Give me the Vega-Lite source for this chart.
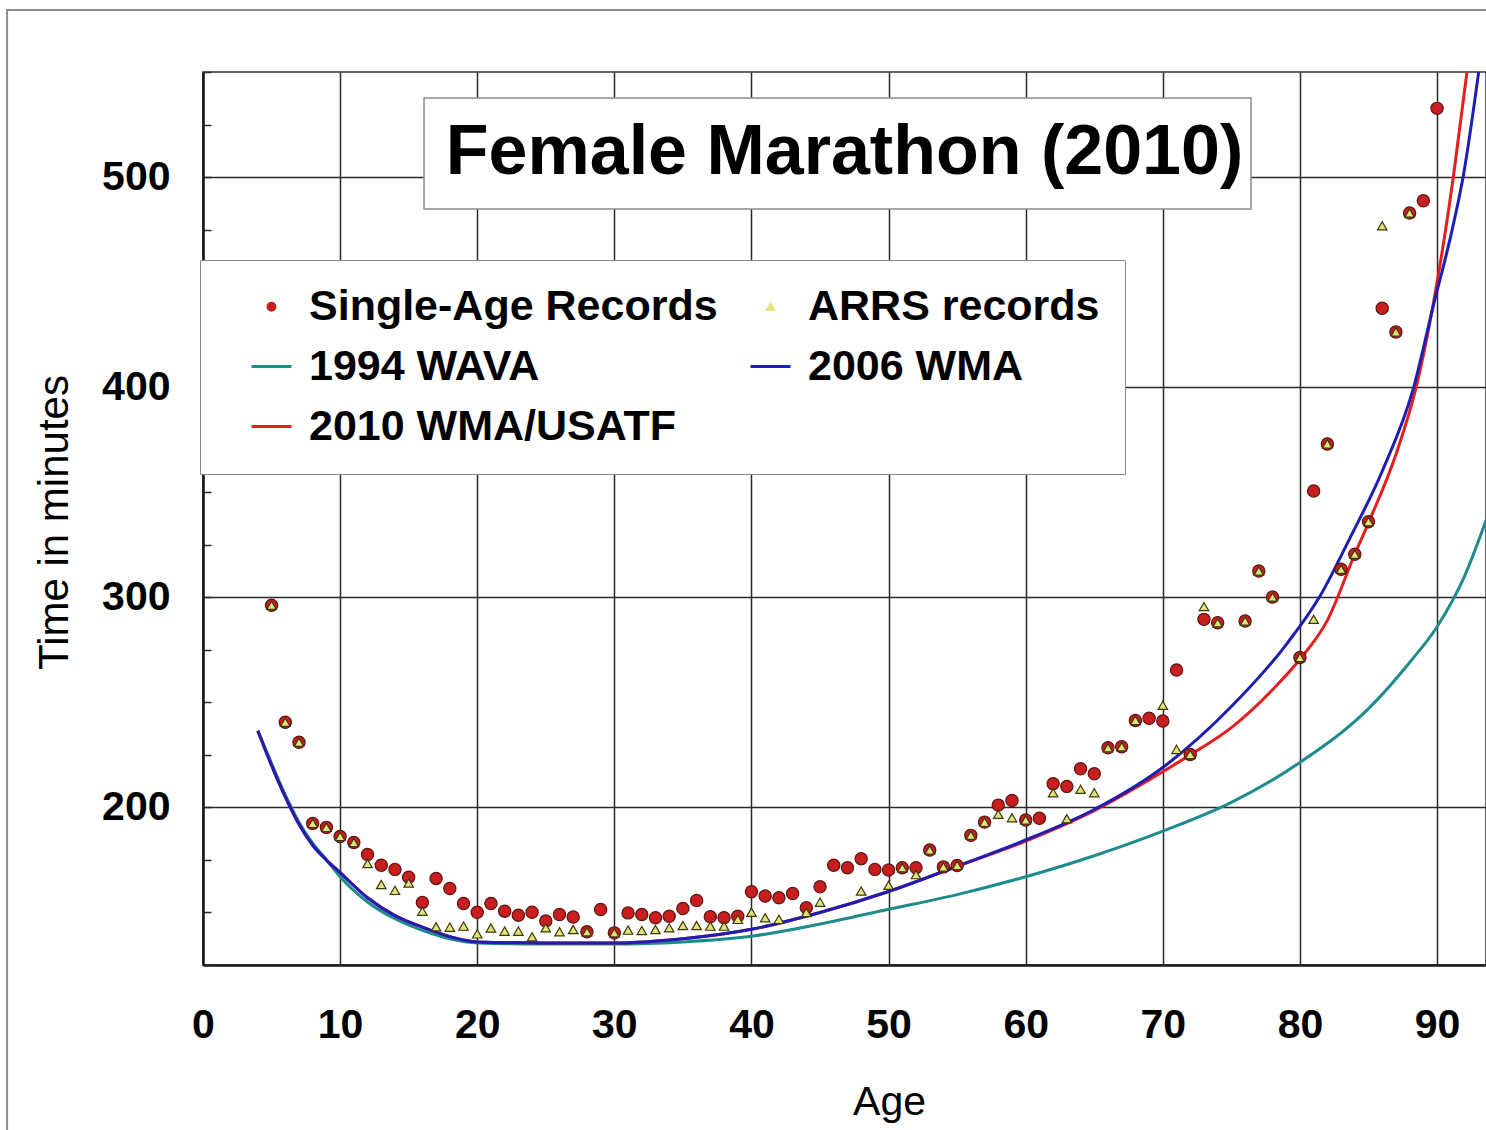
{
  "$schema": "https://vega.github.io/schema/vega-lite/v6.json",
  "autosize": {"type": "none"},
  "width": 1283,
  "height": 893,
  "padding": {"left": 203, "top": 72, "right": 0, "bottom": 165},
  "background": "white",
  "title": {"text": "Female Marathon (2010)", "font": "Liberation Sans", "fontSize": 70, "fontWeight": "bold", "color": "#000000", "anchor": "middle", "frame": "group", "orient": "top", "offset": -234.5, "baseline": "alphabetic"},
  "config": {
    "view": {"stroke": "#333333", "strokeWidth": 1.5},
    "font": "Liberation Sans"
  },
  "datasets": {
    "points": [
      {"age": 5, "time": 296.2, "series": "Single-Age Records"},
      {"age": 6, "time": 240.5, "series": "Single-Age Records"},
      {"age": 7, "time": 231, "series": "Single-Age Records"},
      {"age": 8, "time": 192.4, "series": "Single-Age Records"},
      {"age": 9, "time": 190.5, "series": "Single-Age Records"},
      {"age": 10, "time": 186.2, "series": "Single-Age Records"},
      {"age": 11, "time": 183.3, "series": "Single-Age Records"},
      {"age": 12, "time": 177.6, "series": "Single-Age Records"},
      {"age": 13, "time": 172.5, "series": "Single-Age Records"},
      {"age": 14, "time": 170.5, "series": "Single-Age Records"},
      {"age": 15, "time": 166.8, "series": "Single-Age Records"},
      {"age": 16, "time": 154.8, "series": "Single-Age Records"},
      {"age": 17, "time": 166.2, "series": "Single-Age Records"},
      {"age": 18, "time": 161.4, "series": "Single-Age Records"},
      {"age": 19, "time": 154.3, "series": "Single-Age Records"},
      {"age": 20, "time": 150.1, "series": "Single-Age Records"},
      {"age": 21, "time": 154.3, "series": "Single-Age Records"},
      {"age": 22, "time": 150.6, "series": "Single-Age Records"},
      {"age": 23, "time": 148.7, "series": "Single-Age Records"},
      {"age": 24, "time": 150.1, "series": "Single-Age Records"},
      {"age": 25, "time": 145.9, "series": "Single-Age Records"},
      {"age": 26, "time": 149.0, "series": "Single-Age Records"},
      {"age": 27, "time": 147.8, "series": "Single-Age Records"},
      {"age": 28, "time": 140.8, "series": "Single-Age Records"},
      {"age": 29, "time": 151.4, "series": "Single-Age Records"},
      {"age": 30, "time": 140.3, "series": "Single-Age Records"},
      {"age": 31, "time": 149.8, "series": "Single-Age Records"},
      {"age": 32, "time": 149.0, "series": "Single-Age Records"},
      {"age": 33, "time": 147.5, "series": "Single-Age Records"},
      {"age": 34, "time": 148.2, "series": "Single-Age Records"},
      {"age": 35, "time": 151.9, "series": "Single-Age Records"},
      {"age": 36, "time": 155.7, "series": "Single-Age Records"},
      {"age": 37, "time": 148.0, "series": "Single-Age Records"},
      {"age": 38, "time": 147.5, "series": "Single-Age Records"},
      {"age": 39, "time": 148.2, "series": "Single-Age Records"},
      {"age": 40, "time": 159.9, "series": "Single-Age Records"},
      {"age": 41, "time": 157.8, "series": "Single-Age Records"},
      {"age": 42, "time": 157.0, "series": "Single-Age Records"},
      {"age": 43, "time": 159.0, "series": "Single-Age Records"},
      {"age": 44, "time": 152.2, "series": "Single-Age Records"},
      {"age": 45, "time": 162.2, "series": "Single-Age Records"},
      {"age": 46, "time": 172.5, "series": "Single-Age Records"},
      {"age": 47, "time": 171.3, "series": "Single-Age Records"},
      {"age": 48, "time": 175.6, "series": "Single-Age Records"},
      {"age": 49, "time": 170.5, "series": "Single-Age Records"},
      {"age": 50, "time": 170.2, "series": "Single-Age Records"},
      {"age": 51, "time": 171.3, "series": "Single-Age Records"},
      {"age": 52, "time": 171.3, "series": "Single-Age Records"},
      {"age": 53, "time": 179.7, "series": "Single-Age Records"},
      {"age": 54, "time": 171.7, "series": "Single-Age Records"},
      {"age": 55, "time": 172.4, "series": "Single-Age Records"},
      {"age": 56, "time": 186.7, "series": "Single-Age Records"},
      {"age": 57, "time": 193.0, "series": "Single-Age Records"},
      {"age": 58, "time": 201.1, "series": "Single-Age Records"},
      {"age": 59, "time": 203.3, "series": "Single-Age Records"},
      {"age": 60, "time": 194.0, "series": "Single-Age Records"},
      {"age": 61, "time": 194.8, "series": "Single-Age Records"},
      {"age": 62, "time": 211.3, "series": "Single-Age Records"},
      {"age": 63, "time": 210.0, "series": "Single-Age Records"},
      {"age": 64, "time": 218.4, "series": "Single-Age Records"},
      {"age": 65, "time": 216.0, "series": "Single-Age Records"},
      {"age": 66, "time": 228.4, "series": "Single-Age Records"},
      {"age": 67, "time": 228.9, "series": "Single-Age Records"},
      {"age": 68, "time": 241.4, "series": "Single-Age Records"},
      {"age": 69, "time": 242.4, "series": "Single-Age Records"},
      {"age": 70, "time": 241.1, "series": "Single-Age Records"},
      {"age": 71, "time": 265.4, "series": "Single-Age Records"},
      {"age": 72, "time": 225.2, "series": "Single-Age Records"},
      {"age": 73, "time": 289.5, "series": "Single-Age Records"},
      {"age": 74, "time": 287.9, "series": "Single-Age Records"},
      {"age": 76, "time": 288.7, "series": "Single-Age Records"},
      {"age": 77, "time": 312.5, "series": "Single-Age Records"},
      {"age": 78, "time": 300.1, "series": "Single-Age Records"},
      {"age": 80, "time": 271.3, "series": "Single-Age Records"},
      {"age": 81, "time": 350.6, "series": "Single-Age Records"},
      {"age": 82, "time": 373.0, "series": "Single-Age Records"},
      {"age": 83, "time": 313.3, "series": "Single-Age Records"},
      {"age": 84, "time": 320.5, "series": "Single-Age Records"},
      {"age": 85, "time": 336.0, "series": "Single-Age Records"},
      {"age": 86, "time": 437.6, "series": "Single-Age Records"},
      {"age": 87, "time": 426.3, "series": "Single-Age Records"},
      {"age": 88, "time": 482.9, "series": "Single-Age Records"},
      {"age": 89, "time": 488.7, "series": "Single-Age Records"},
      {"age": 90, "time": 532.7, "series": "Single-Age Records"},
      {"age": 5, "time": 296.2, "series": "ARRS records"},
      {"age": 6, "time": 240.5, "series": "ARRS records"},
      {"age": 7, "time": 231, "series": "ARRS records"},
      {"age": 8, "time": 192.4, "series": "ARRS records"},
      {"age": 9, "time": 190.5, "series": "ARRS records"},
      {"age": 10, "time": 186.2, "series": "ARRS records"},
      {"age": 11, "time": 183.3, "series": "ARRS records"},
      {"age": 12, "time": 173.3, "series": "ARRS records"},
      {"age": 13, "time": 163.3, "series": "ARRS records"},
      {"age": 14, "time": 160.5, "series": "ARRS records"},
      {"age": 15, "time": 164.0, "series": "ARRS records"},
      {"age": 16, "time": 150.6, "series": "ARRS records"},
      {"age": 17, "time": 143.2, "series": "ARRS records"},
      {"age": 18, "time": 143.0, "series": "ARRS records"},
      {"age": 19, "time": 143.5, "series": "ARRS records"},
      {"age": 20, "time": 139.8, "series": "ARRS records"},
      {"age": 21, "time": 142.6, "series": "ARRS records"},
      {"age": 22, "time": 141.1, "series": "ARRS records"},
      {"age": 23, "time": 141.1, "series": "ARRS records"},
      {"age": 24, "time": 138.4, "series": "ARRS records"},
      {"age": 25, "time": 142.7, "series": "ARRS records"},
      {"age": 26, "time": 140.8, "series": "ARRS records"},
      {"age": 27, "time": 141.9, "series": "ARRS records"},
      {"age": 28, "time": 140.8, "series": "ARRS records"},
      {"age": 30, "time": 140.3, "series": "ARRS records"},
      {"age": 31, "time": 141.6, "series": "ARRS records"},
      {"age": 32, "time": 141.4, "series": "ARRS records"},
      {"age": 33, "time": 141.9, "series": "ARRS records"},
      {"age": 34, "time": 142.7, "series": "ARRS records"},
      {"age": 35, "time": 143.8, "series": "ARRS records"},
      {"age": 36, "time": 143.8, "series": "ARRS records"},
      {"age": 37, "time": 143.5, "series": "ARRS records"},
      {"age": 38, "time": 143.5, "series": "ARRS records"},
      {"age": 39, "time": 146.7, "series": "ARRS records"},
      {"age": 40, "time": 150.1, "series": "ARRS records"},
      {"age": 41, "time": 147.5, "series": "ARRS records"},
      {"age": 42, "time": 146.7, "series": "ARRS records"},
      {"age": 44, "time": 150.0, "series": "ARRS records"},
      {"age": 45, "time": 154.9, "series": "ARRS records"},
      {"age": 48, "time": 160.2, "series": "ARRS records"},
      {"age": 50, "time": 162.9, "series": "ARRS records"},
      {"age": 51, "time": 171.3, "series": "ARRS records"},
      {"age": 52, "time": 168.0, "series": "ARRS records"},
      {"age": 53, "time": 179.7, "series": "ARRS records"},
      {"age": 54, "time": 171.7, "series": "ARRS records"},
      {"age": 55, "time": 172.4, "series": "ARRS records"},
      {"age": 56, "time": 186.7, "series": "ARRS records"},
      {"age": 57, "time": 193.0, "series": "ARRS records"},
      {"age": 58, "time": 196.7, "series": "ARRS records"},
      {"age": 59, "time": 195.1, "series": "ARRS records"},
      {"age": 60, "time": 194.0, "series": "ARRS records"},
      {"age": 62, "time": 207.0, "series": "ARRS records"},
      {"age": 63, "time": 194.6, "series": "ARRS records"},
      {"age": 64, "time": 208.6, "series": "ARRS records"},
      {"age": 65, "time": 207.0, "series": "ARRS records"},
      {"age": 66, "time": 228.4, "series": "ARRS records"},
      {"age": 67, "time": 228.9, "series": "ARRS records"},
      {"age": 68, "time": 241.4, "series": "ARRS records"},
      {"age": 70, "time": 248.6, "series": "ARRS records"},
      {"age": 71, "time": 227.6, "series": "ARRS records"},
      {"age": 72, "time": 225.2, "series": "ARRS records"},
      {"age": 73, "time": 295.6, "series": "ARRS records"},
      {"age": 74, "time": 287.9, "series": "ARRS records"},
      {"age": 76, "time": 288.7, "series": "ARRS records"},
      {"age": 77, "time": 312.5, "series": "ARRS records"},
      {"age": 78, "time": 300.1, "series": "ARRS records"},
      {"age": 80, "time": 271.3, "series": "ARRS records"},
      {"age": 81, "time": 289.5, "series": "ARRS records"},
      {"age": 82, "time": 373.0, "series": "ARRS records"},
      {"age": 83, "time": 313.3, "series": "ARRS records"},
      {"age": 84, "time": 320.5, "series": "ARRS records"},
      {"age": 85, "time": 336.0, "series": "ARRS records"},
      {"age": 86, "time": 476.8, "series": "ARRS records"},
      {"age": 87, "time": 426.3, "series": "ARRS records"},
      {"age": 88, "time": 482.9, "series": "ARRS records"}
    ],
    "curves": [
      {"age": 4, "time": 236.5, "series": "1994 WAVA"},
      {"age": 5, "time": 221, "series": "1994 WAVA"},
      {"age": 6, "time": 206, "series": "1994 WAVA"},
      {"age": 7, "time": 193, "series": "1994 WAVA"},
      {"age": 8, "time": 183, "series": "1994 WAVA"},
      {"age": 9, "time": 175, "series": "1994 WAVA"},
      {"age": 10, "time": 167, "series": "1994 WAVA"},
      {"age": 12, "time": 155, "series": "1994 WAVA"},
      {"age": 14, "time": 147, "series": "1994 WAVA"},
      {"age": 16, "time": 141.5, "series": "1994 WAVA"},
      {"age": 18, "time": 137.5, "series": "1994 WAVA"},
      {"age": 20, "time": 135.5, "series": "1994 WAVA"},
      {"age": 25, "time": 135, "series": "1994 WAVA"},
      {"age": 30, "time": 135, "series": "1994 WAVA"},
      {"age": 35, "time": 136, "series": "1994 WAVA"},
      {"age": 40, "time": 138.7, "series": "1994 WAVA"},
      {"age": 45, "time": 144.5, "series": "1994 WAVA"},
      {"age": 50, "time": 151.5, "series": "1994 WAVA"},
      {"age": 55, "time": 158.5, "series": "1994 WAVA"},
      {"age": 60, "time": 167, "series": "1994 WAVA"},
      {"age": 65, "time": 177, "series": "1994 WAVA"},
      {"age": 70, "time": 188.7, "series": "1994 WAVA"},
      {"age": 75, "time": 202.4, "series": "1994 WAVA"},
      {"age": 80, "time": 221.4, "series": "1994 WAVA"},
      {"age": 85, "time": 247, "series": "1994 WAVA"},
      {"age": 88, "time": 269, "series": "1994 WAVA"},
      {"age": 90, "time": 286, "series": "1994 WAVA"},
      {"age": 92, "time": 310, "series": "1994 WAVA"},
      {"age": 93.6, "time": 337, "series": "1994 WAVA"},
      {"age": 4, "time": 236.5, "series": "2010 WMA/USATF"},
      {"age": 5, "time": 220, "series": "2010 WMA/USATF"},
      {"age": 6, "time": 205, "series": "2010 WMA/USATF"},
      {"age": 7, "time": 192, "series": "2010 WMA/USATF"},
      {"age": 8, "time": 182, "series": "2010 WMA/USATF"},
      {"age": 9, "time": 175, "series": "2010 WMA/USATF"},
      {"age": 10, "time": 169, "series": "2010 WMA/USATF"},
      {"age": 12, "time": 157, "series": "2010 WMA/USATF"},
      {"age": 14, "time": 148.5, "series": "2010 WMA/USATF"},
      {"age": 16, "time": 143, "series": "2010 WMA/USATF"},
      {"age": 18, "time": 138.5, "series": "2010 WMA/USATF"},
      {"age": 20, "time": 136, "series": "2010 WMA/USATF"},
      {"age": 25, "time": 135.5, "series": "2010 WMA/USATF"},
      {"age": 30, "time": 135.5, "series": "2010 WMA/USATF"},
      {"age": 35, "time": 137.5, "series": "2010 WMA/USATF"},
      {"age": 40, "time": 142, "series": "2010 WMA/USATF"},
      {"age": 45, "time": 150, "series": "2010 WMA/USATF"},
      {"age": 50, "time": 160, "series": "2010 WMA/USATF"},
      {"age": 55, "time": 172, "series": "2010 WMA/USATF"},
      {"age": 60, "time": 184, "series": "2010 WMA/USATF"},
      {"age": 65, "time": 198.5, "series": "2010 WMA/USATF"},
      {"age": 70, "time": 217, "series": "2010 WMA/USATF"},
      {"age": 72, "time": 225, "series": "2010 WMA/USATF"},
      {"age": 75, "time": 238, "series": "2010 WMA/USATF"},
      {"age": 78, "time": 256, "series": "2010 WMA/USATF"},
      {"age": 80, "time": 270.5, "series": "2010 WMA/USATF"},
      {"age": 82, "time": 289, "series": "2010 WMA/USATF"},
      {"age": 84, "time": 320.5, "series": "2010 WMA/USATF"},
      {"age": 85.1, "time": 337, "series": "2010 WMA/USATF"},
      {"age": 87, "time": 368, "series": "2010 WMA/USATF"},
      {"age": 88.5, "time": 400.6, "series": "2010 WMA/USATF"},
      {"age": 89.7, "time": 438.7, "series": "2010 WMA/USATF"},
      {"age": 91.2, "time": 500.6, "series": "2010 WMA/USATF"},
      {"age": 92.2, "time": 551, "series": "2010 WMA/USATF"},
      {"age": 92.6, "time": 572, "series": "2010 WMA/USATF"},
      {"age": 4, "time": 236.5, "series": "2006 WMA"},
      {"age": 5, "time": 220, "series": "2006 WMA"},
      {"age": 6, "time": 205, "series": "2006 WMA"},
      {"age": 7, "time": 192, "series": "2006 WMA"},
      {"age": 8, "time": 182, "series": "2006 WMA"},
      {"age": 9, "time": 175, "series": "2006 WMA"},
      {"age": 10, "time": 169, "series": "2006 WMA"},
      {"age": 12, "time": 157, "series": "2006 WMA"},
      {"age": 14, "time": 148.5, "series": "2006 WMA"},
      {"age": 16, "time": 143, "series": "2006 WMA"},
      {"age": 18, "time": 138.5, "series": "2006 WMA"},
      {"age": 20, "time": 136, "series": "2006 WMA"},
      {"age": 25, "time": 135.5, "series": "2006 WMA"},
      {"age": 30, "time": 135.5, "series": "2006 WMA"},
      {"age": 35, "time": 137.5, "series": "2006 WMA"},
      {"age": 40, "time": 142, "series": "2006 WMA"},
      {"age": 45, "time": 150, "series": "2006 WMA"},
      {"age": 50, "time": 160, "series": "2006 WMA"},
      {"age": 55, "time": 172, "series": "2006 WMA"},
      {"age": 60, "time": 184.5, "series": "2006 WMA"},
      {"age": 65, "time": 199, "series": "2006 WMA"},
      {"age": 70, "time": 219, "series": "2006 WMA"},
      {"age": 75, "time": 248, "series": "2006 WMA"},
      {"age": 79, "time": 277.5, "series": "2006 WMA"},
      {"age": 81.5, "time": 301, "series": "2006 WMA"},
      {"age": 83.6, "time": 327.6, "series": "2006 WMA"},
      {"age": 86, "time": 360, "series": "2006 WMA"},
      {"age": 88.3, "time": 400, "series": "2006 WMA"},
      {"age": 89.7, "time": 438, "series": "2006 WMA"},
      {"age": 91, "time": 472, "series": "2006 WMA"},
      {"age": 91.9, "time": 500, "series": "2006 WMA"},
      {"age": 93.2, "time": 558, "series": "2006 WMA"}
    ],
    "box": [{"label": "Female Marathon (2010)"}]
  },
  "layer": [
    {
      "data": {"name": "box"},
      "mark": {"type": "rect", "fill": "transparent", "stroke": "#8c8c8c", "strokeWidth": 2, "clip": false},
      "encoding": {
        "x": {"datum": -14.29, "type": "quantitative", "scale": {"domain": [0, 93.57], "nice": false, "zero": false}},
        "x2": {"datum": 96},
        "y": {"datum": 579.5, "type": "quantitative", "scale": {"domain": [125, 550], "nice": false, "zero": false}},
        "y2": {"datum": 40}
      }
    },
    {
      "data": {"name": "box"},
      "mark": {"type": "rect", "fill": "white", "stroke": "#8a8a8a", "strokeWidth": 1.5},
      "encoding": {
        "x": {"datum": 16.12, "type": "quantitative", "scale": {"domain": [0, 93.57], "nice": false, "zero": false}},
        "x2": {"datum": 76.43},
        "y": {"datum": 537.6, "type": "quantitative", "scale": {"domain": [125, 550], "nice": false, "zero": false}},
        "y2": {"datum": 484.8}
      }
    },
    {
      "data": {"name": "curves"},
      "mark": {"type": "line", "strokeWidth": 3, "interpolate": "monotone", "clip": true},
      "encoding": {
        "x": {
          "field": "age", "type": "quantitative",
          "scale": {"domain": [0, 93.57], "nice": false, "zero": false},
          "axis": {
            "values": [0, 10, 20, 30, 40, 50, 60, 70, 80, 90],
            "grid": true, "gridColor": "#2a2a2a", "gridWidth": 1.5,
            "domainColor": "#1a1a1a", "domainWidth": 2.5,
            "ticks": false,
            "labelFont": "Liberation Sans", "labelFontSize": 41, "labelFontWeight": "bold", "labelColor": "#000000",
            "labelPadding": 40, "labelFlush": false, "labelOverlap": false, "labelBaseline": "top",
            "title": "Age", "titleFont": "Liberation Sans", "titleFontSize": 41, "titleFontWeight": "normal", "titleColor": "#000000",
            "titleX": 686, "titleY": 149, "titleBaseline": "alphabetic", "titleAlign": "center"
          }
        },
        "y": {
          "field": "time", "type": "quantitative",
          "scale": {"domain": [125, 550], "nice": false, "zero": false},
          "axis": {
            "values": [125, 150, 175, 200, 225, 250, 275, 300, 325, 350, 375, 400, 425, 450, 475, 500, 525, 550],
            "grid": true, "gridColor": "#2a2a2a", "gridWidth": 1.5,
            "gridOpacity": {"condition": {"test": "datum.value % 100 === 0", "value": 1}, "value": 0},
            "domainColor": "#1a1a1a", "domainWidth": 2.5,
            "ticks": true, "tickSize": -8, "tickColor": "#2a2a2a", "tickWidth": 1.5,
            "labelExpr": "datum.value % 100 === 0 ? datum.label : ''",
            "labelFont": "Liberation Sans", "labelFontSize": 41, "labelFontWeight": "bold", "labelColor": "#000000",
            "labelPadding": 41, "labelFlush": false, "labelOverlap": false,
            "title": "Time in minutes", "titleFont": "Liberation Sans", "titleFontSize": 42, "titleFontWeight": "normal", "titleColor": "#000000",
            "titleX": -136, "titleY": 450, "titleBaseline": "alphabetic", "titleAlign": "center", "titleAngle": -90
          }
        },
        "color": {
          "field": "series", "type": "nominal",
          "scale": {
            "domain": ["Single-Age Records", "ARRS records", "1994 WAVA", "2006 WMA", "2010 WMA/USATF"],
            "range": ["#c81e1e", "#e2e27a", "#1e8c8c", "#1e1eb4", "#e61e1e"]
          },
          "legend": {
            "orient": "none", "legendX": -3, "legendY": 188, "direction": "horizontal",
            "title": null, "columns": 2, "columnPadding": 6, "rowPadding": 16,
            "padding": 25, "fillColor": "white", "strokeColor": "#8a8a8a",
            "symbolSize": 1600, "symbolOffset": 25, "labelOffset": 16,
            "labelFont": "Liberation Sans", "labelFontSize": 43, "labelFontWeight": "bold", "labelColor": "#000000", "labelLimit": 0,
            "values": ["Single-Age Records", "ARRS records", "1994 WAVA", "2006 WMA", "2010 WMA/USATF"],
            "encode": {
              "symbols": {
                "update": {
                  "shape": {"signal": "datum.value === 'Single-Age Records' ? 'circle' : datum.value === 'ARRS records' ? 'triangle-up' : 'stroke'"},
                  "size": {"signal": "datum.value === 'Single-Age Records' ? 75 : datum.value === 'ARRS records' ? 70 : 1600"},
                  "fill": {"signal": "datum.value === 'Single-Age Records' ? '#b41e1e' : datum.value === 'ARRS records' ? '#d8d860' : 'transparent'"},
                  "stroke": {"signal": "datum.value === 'Single-Age Records' ? '#5a1414' : datum.value === 'ARRS records' ? '#3a3a08' : datum.value === '1994 WAVA' ? '#1e8c8c' : datum.value === '2006 WMA' ? '#1e1eb4' : '#e61e1e'"},
                  "strokeWidth": {"signal": "datum.value === 'Single-Age Records' || datum.value === 'ARRS records' ? 1.3 : 3"},
                  "opacity": {"value": 1}
                }
              }
            }
          }
        },
        "order": {"field": "age", "type": "quantitative"},
        "detail": {"field": "series"}
      }
    },
    {
      "data": {"name": "points"},
      "transform": [{"filter": "datum.series === 'Single-Age Records'"}],
      "mark": {"type": "point", "filled": true, "shape": "circle", "size": 150, "stroke": "#5a1414", "strokeWidth": 1.2, "opacity": 1},
      "encoding": {
        "x": {"field": "age", "type": "quantitative", "scale": {"domain": [0, 93.57], "nice": false, "zero": false}},
        "y": {"field": "time", "type": "quantitative", "scale": {"domain": [125, 550], "nice": false, "zero": false}},
        "color": {"field": "series", "type": "nominal"}
      }
    },
    {
      "data": {"name": "points"},
      "transform": [{"filter": "datum.series === 'ARRS records'"}],
      "mark": {"type": "point", "filled": true, "shape": "triangle-up", "size": 90, "stroke": "#3a3a08", "strokeWidth": 1.2, "opacity": 1},
      "encoding": {
        "x": {"field": "age", "type": "quantitative", "scale": {"domain": [0, 93.57], "nice": false, "zero": false}},
        "y": {"field": "time", "type": "quantitative", "scale": {"domain": [125, 550], "nice": false, "zero": false}},
        "color": {"field": "series", "type": "nominal"}
      }
    }
  ]
}
